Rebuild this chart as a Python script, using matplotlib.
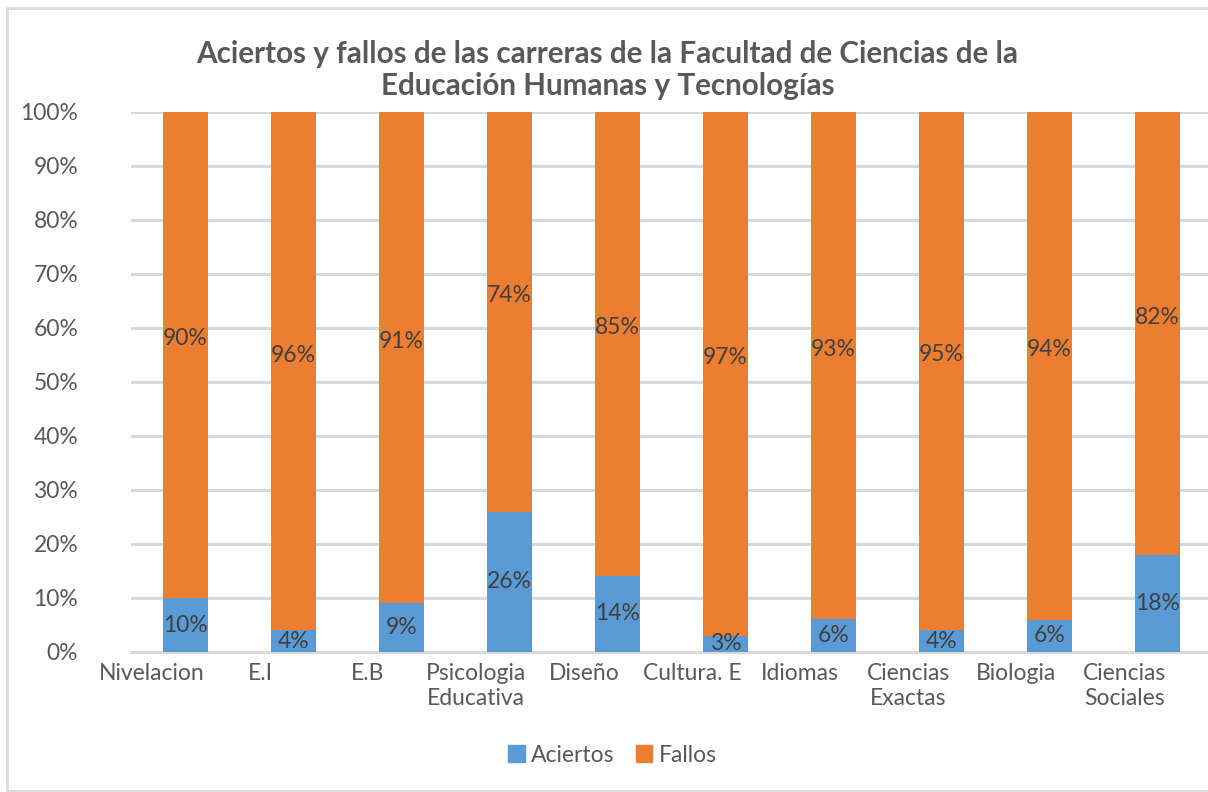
import matplotlib.pyplot as plt
from matplotlib.patches import Patch, Rectangle
import numpy as np

plt.rcParams['font.family'] = ['Lato', 'DejaVu Sans']

# --- DATA ---
carreras = ['Nivelacion', 'E.I', 'E.B', 'Psicologia\nEducativa', 'Diseño', 'Cultura. E',
            'Idiomas', 'Ciencias\nExactas', 'Biologia', 'Ciencias\nSociales']
aciertos = [10, 4, 9, 26, 14, 3, 6, 4, 6, 18]
fallos = [90, 96, 91, 74, 85, 97, 93, 95, 94, 82]
y_ticks = [0, 10, 20, 30, 40, 50, 60, 70, 80, 90, 100]

BLUE = '#5B9BD5'
ORANGE = '#ED7D31'
TEXT = '#595959'
LABEL = '#404040'
GRID = '#D9D9D9'

# 100% stacked -> normalise each column
tot = np.array(aciertos) + np.array(fallos)
a_frac = np.array(aciertos) / tot
f_frac = np.array(fallos) / tot

fig = plt.figure(figsize=(12.08, 7.92), dpi=100)
ax = fig.add_axes([131 / 1208, 1 - 652 / 792, 1080 / 1208, 540 / 792])

x = np.arange(len(carreras))
bar_x = x + 0.31   # bars sit right of their category label
w = 0.41

ax.bar(bar_x, a_frac, w, color=BLUE, zorder=3)
ax.bar(bar_x, f_frac, w, bottom=a_frac, color=ORANGE, zorder=3)

for xi, a, f, av, fv in zip(bar_x, a_frac, f_frac, aciertos, fallos):
    ax.text(xi, a / 2, f'{av}%', ha='center', va='center', fontsize=16.5, color=LABEL, zorder=4)
    ax.text(xi, a + f / 2 + 0.03, f'{fv}%', ha='center', va='center', fontsize=16.5, color=LABEL, zorder=4)

ax.set_xlim(-0.195, 9.805)
ax.set_ylim(0, 1)
ax.set_yticks([t / 100 for t in y_ticks])
ax.set_yticklabels([f'{t}%' for t in y_ticks])
ax.set_xticks(x)
ax.set_xticklabels(carreras, linespacing=1.25)
ax.tick_params(axis='y', length=0, pad=38, labelsize=16.5, labelcolor=TEXT)
ax.tick_params(axis='x', length=0, pad=8, labelsize=16.5, labelcolor=TEXT)
ax.yaxis.grid(True, color=GRID, linewidth=2.2, zorder=0)
for s in ['top', 'right', 'left']:
    ax.spines[s].set_visible(False)
ax.spines['bottom'].set_color(GRID)
ax.spines['bottom'].set_linewidth(2.2)

fig.text(0.503, 1 - 70 / 792,
         'Aciertos y fallos de las carreras de la Facultad de Ciencias de la\nEducación Humanas y Tecnologías',
         ha='center', va='center', fontsize=21.3, fontweight='bold', color=TEXT, linespacing=1.15)

handles = [Patch(color=BLUE, label='Aciertos'), Patch(color=ORANGE, label='Fallos')]
fig.legend(handles=handles, loc='center', bbox_to_anchor=(0.507, 1 - 755 / 792), ncol=2,
           frameon=False, fontsize=16.5, labelcolor=TEXT, handlelength=0.7, handleheight=0.7,
           handletextpad=0.3, columnspacing=0.9)

# outer chart border (right side cropped in the source)
fig.patches.append(Rectangle((7.5 / 1208, 1.5 / 792), 1.02, 1 - 9 / 792, transform=fig.transFigure,
                             fill=False, edgecolor=GRID, linewidth=2))

fig.savefig('out.png', dpi=100)
